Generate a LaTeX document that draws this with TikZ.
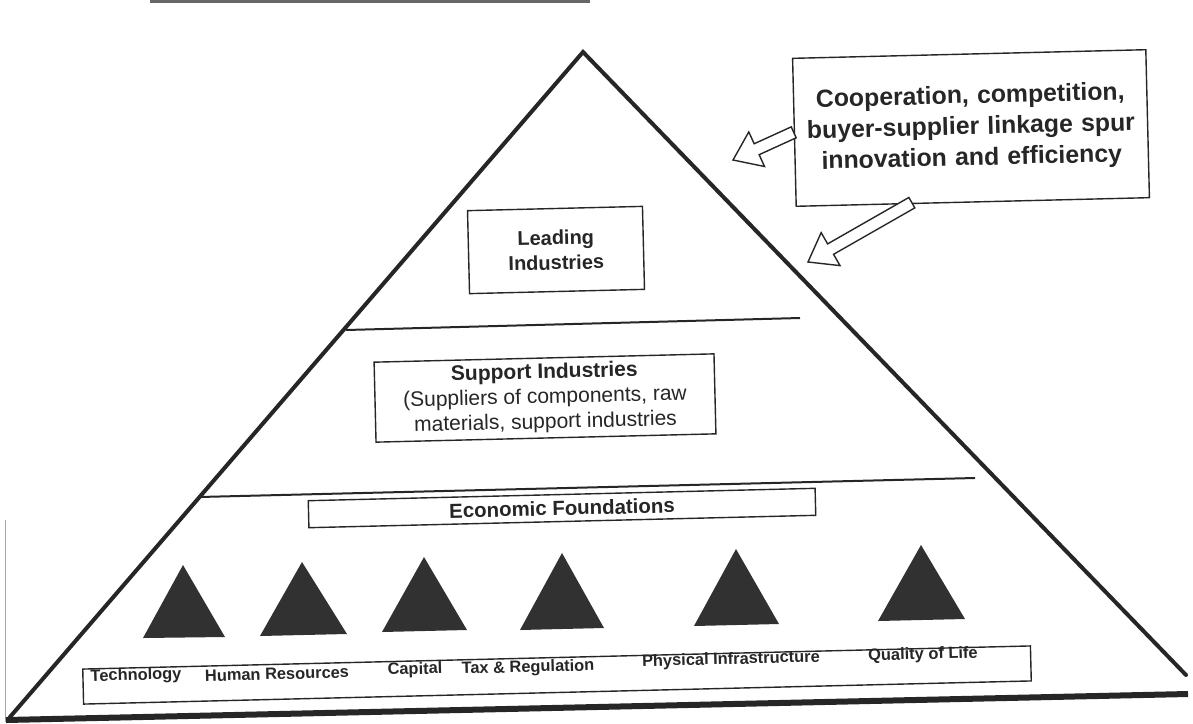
\documentclass[tikz,border=0pt]{standalone}
\usepackage{fontspec}
\setmainfont{Liberation Sans}
\usepackage{xcolor}
\usetikzlibrary{calc}
\definecolor{ink}{gray}{0.15}
\newcommand{\hollowarrow}[2]{%
  \coordinate (neck) at ($(#2)!13pt!(#1)$);
  \draw[line width=0.7pt, color=ink, fill=white]
    ($(#1)!3pt!90:(#2)$) -- ($(neck)!3pt!90:(#2)$) -- ($(neck)!9.5pt!90:(#2)$)
    -- (#2) -- ($(neck)!9.5pt!-90:(#2)$) -- ($(neck)!3pt!-90:(#2)$)
    -- ($(#1)!3pt!-90:(#2)$) -- cycle;}
\tikzset{
  side/.style={line width=2pt, color=ink, line cap=round},
  tier/.style={line width=1pt, color=ink},
  plainbox/.style={draw=ink, line width=0.7pt, fill=white, rotate=1.4, align=center, text=ink},
  foot/.style={font=\bfseries\fontsize{8.2}{10}\selectfont, text=ink, rotate=1.5, inner sep=0pt},
  peak/.style={fill=ink!95}
}

\begin{document}
\begin{tikzpicture}[x=0.5pt,y=-0.5pt]
\useasboundingbox (0,0) rectangle (1193,723);

\draw[line width=2pt, color=ink!70] (150,1) -- (590,1);
\draw[line width=0.5pt, color=ink!40] (5,520) -- (5,722);

\coordinate (apex) at (583,52);
\coordinate (lcorner) at (10,717);
\coordinate (rcorner) at (1186,675);
\draw[side] (lcorner) -- (apex) -- (rcorner);
\draw[line width=3pt, color=ink] (6,720) -- (1188,694);

\draw[tier] (346,330) -- (800,318);
\draw[tier] (199,497) -- (975,478);

\node[plainbox, minimum width=87.5pt, minimum height=41.5pt, font=\bfseries\fontsize{10}{12.5}\selectfont] (leading) at (556,250) {Leading\\Industries};

\node[plainbox, minimum width=170pt, minimum height=40pt, inner sep=1pt, font=\fontsize{10.5}{12.5}\selectfont] (support) at (545,398) {\textbf{Support Industries}\\(Suppliers of components, raw\\materials, support industries};

\node[plainbox, minimum width=253.5pt, minimum height=13.5pt, inner sep=1pt, font=\bfseries\fontsize{10.2}{12}\selectfont] (econ) at (562,508) {Economic Foundations};

\fill[peak] (143,638) -- (183,565) -- (225,637) -- cycle;
\fill[peak] (260,636) -- (302,562) -- (347,634) -- cycle;
\fill[peak] (382,632) -- (424,557) -- (467,630) -- cycle;
\fill[peak] (520,630) -- (562,553) -- (604,628) -- cycle;
\fill[peak] (694,626) -- (736,549) -- (779,624) -- cycle;
\fill[peak] (878,621) -- (921,545) -- (965,619) -- cycle;

\node[plainbox, minimum width=474pt, minimum height=17.5pt] (basebox) at (557,675) {};
\node[foot] (technology) at (136,676) {Technology};
\node[foot] (humanres) at (277,674) {Human Resources};
\node[foot] (capital) at (415,670) {Capital};
\node[foot] (taxreg) at (528,668) {Tax \& Regulation};
\node[foot] (physinf) at (731,660) {Physical Infrastructure};
\node[foot] (quality) at (923,655) {Quality of Life};

\node[plainbox, minimum width=176.5pt, minimum height=74pt, text width=170pt, font=\bfseries\fontsize{12.4}{15.5}\selectfont] (callout) at (971,128) {Cooperation, competition,\\buyer-supplier linkage spur\\innovation and efficiency};

\coordinate (tip1) at (733,160);
\coordinate (tip2) at (808,262);
\coordinate (tail2) at ($(callout.south)+(-61,0)$);
\hollowarrow{callout.west}{tip1}
\hollowarrow{tail2}{tip2}
\end{tikzpicture}
\end{document}
